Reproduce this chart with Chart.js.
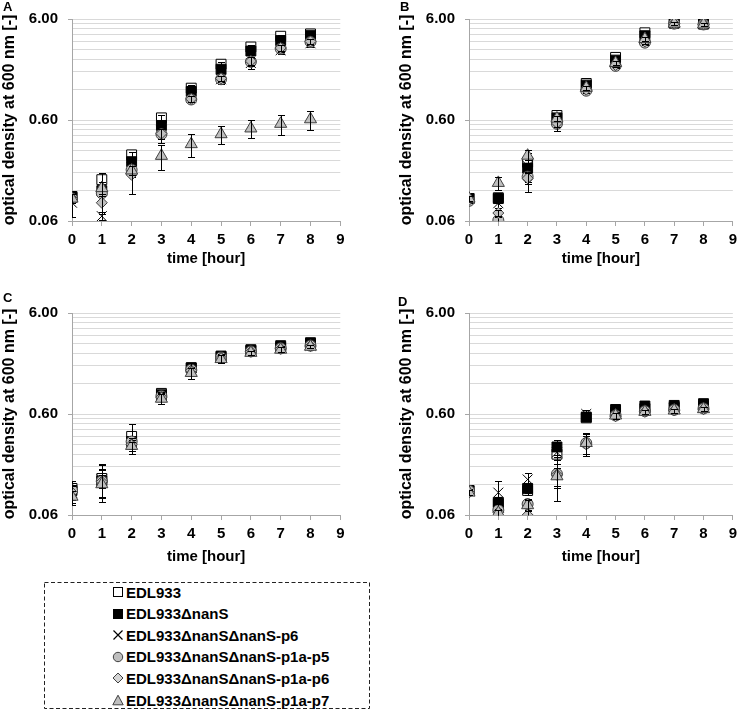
<!DOCTYPE html>
<html><head><meta charset="utf-8">
<script src="https://cdn.jsdelivr.net/npm/chart.js@4.4.1/dist/chart.umd.min.js"></script>
<style>
html,body{margin:0;padding:0;background:#fff;}
body{width:742px;height:711px;position:relative;overflow:hidden;font-family:"Liberation Sans",Arial,Helvetica,sans-serif;color:#000;}
.cv{position:absolute;}
.letter{position:absolute;font-weight:bold;font-size:13px;line-height:13px;}
#legend{position:absolute;left:44px;top:582px;width:326px;height:127px;}
#legend svg.box{position:absolute;left:0;top:0;}
.row{position:absolute;left:68px;height:22px;display:flex;align-items:center;font-weight:bold;font-size:15px;white-space:nowrap;}
.row svg{margin-right:2px;}
</style>
</head><body>
<canvas id="cA" class="cv" width="370" height="270" style="left:0;top:0"></canvas>
<canvas id="cB" class="cv" width="345" height="270" style="left:397px;top:0"></canvas>
<canvas id="cC" class="cv" width="370" height="275" style="left:0;top:294px"></canvas>
<canvas id="cD" class="cv" width="345" height="275" style="left:397px;top:294px"></canvas>
<div class="letter" style="left:3px;top:0px">A</div>
<div class="letter" style="left:400px;top:0px">B</div>
<div class="letter" style="left:3px;top:291px">C</div>
<div class="letter" style="left:398px;top:295px">D</div>
<div id="legend">
<svg class="box" width="326" height="127"><rect x="0.5" y="0.5" width="325" height="126" fill="none" stroke="#222" stroke-width="1" stroke-dasharray="4,2.5"/></svg>
</div>
<script>
// ---------- data ----------
const hours = [0, 1, 2, 3, 4, 5, 6, 7, 8];
const seriesNames = ['EDL933', 'EDL933ΔnanS', 'EDL933ΔnanSΔnanS-p6', 'EDL933ΔnanSΔnanS-p1a-p5', 'EDL933ΔnanSΔnanS-p1a-p6', 'EDL933ΔnanSΔnanS-p1a-p7'];
const xTickValues = [0, 1, 2, 3, 4, 5, 6, 7, 8, 9];
const xTickLabels = ['0', '1', '2', '3', '4', '5', '6', '7', '8', '9'];
const yMajorValues = [0.06, 0.6, 6];
const yTickLabels = ['0.06', '0.60', '6.00'];
const yGridValues = [0.06, 0.12, 0.18, 0.24, 0.30, 0.36, 0.42, 0.48, 0.54, 0.6, 1.2, 1.8, 2.4, 3.0, 3.6, 4.2, 4.8, 5.4, 6];
const xTitle = 'time [hour]';
const yTitle = 'optical density at 600 nm [-]';

// Panel A
const A_wt    = [0.105, 0.154, 0.271, 0.63, 1.24, 2.14, 3.17, 4.05, 4.27];
const A_del   = [0.103, 0.120, 0.232, 0.53, 1.15, 1.91, 2.89, 3.67, 4.11];
const A_p6    = [0.091, 0.067, 0.205, 0.47, 1.00, 1.52, 2.20, 2.95, 3.45];
const A_p5    = [0.100, 0.113, 0.193, 0.434, 0.958, 1.52, 2.26, 3.05, 3.56];
const A_p1a6  = [0.100, 0.091, 0.172, 0.44, 0.97, 1.55, 2.30, 3.10, 3.60];
const A_p7    = [0.100, 0.127, 0.190, 0.265, 0.346, 0.434, 0.495, 0.55, 0.61];
const A_wt_e   = [0.010, 0.024, 0.020, 0.05, 0.08, 0.10, 0.15, 0.15, 0.15];
const A_del_e  = [0.010, 0.010, 0.020, 0.04, 0.06, 0.10, 0.15, 0.15, 0.15];
const A_p6_e   = [0.025, 0.006, 0.020, 0.05, 0.08, 0.15, 0.30, 0.25, 0.30];
const A_p5_e   = [0.010, 0.020, 0.030, 0.08, 0.06, 0.10, 0.20, 0.20, 0.25];
const A_p1a6_e = [0.010, 0.020, 0.060, 0.05, 0.06, 0.10, 0.20, 0.20, 0.20];
const A_p7_e   = [0.010, 0.020, 0.020, 0.075, 0.09, 0.09, 0.10, 0.12, 0.13];

// Panel B
const B_wt    = [0.100, 0.102, 0.229, 0.665, 1.38, 2.50, 4.38, 5.47, 5.36];
const B_del   = [0.100, 0.100, 0.200, 0.63, 1.33, 2.35, 4.10, 5.47, 5.36];
const B_p6    = [0.100, 0.090, 0.210, 0.62, 1.30, 2.30, 4.00, 5.47, 5.36];
const B_p5    = [0.095, 0.061, 0.165, 0.55, 1.17, 2.06, 3.50, 5.40, 5.30];
const B_p1a6  = [0.097, 0.072, 0.159, 0.56, 1.20, 2.10, 3.60, 5.40, 5.30];
const B_p7    = [0.100, 0.143, 0.266, 0.62, 1.25, 2.20, 3.80, 5.40, 5.30];
const B_wt_e   = [0.005, 0.012, 0.040, 0.03, 0.05, 0.10, 0.20, 0.20, 0.20];
const B_del_e  = [0.005, 0.010, 0.085, 0.03, 0.05, 0.10, 0.20, 0.20, 0.20];
const B_p6_e   = [0.005, 0.010, 0.030, 0.03, 0.05, 0.10, 0.20, 0.20, 0.20];
const B_p5_e   = [0.005, 0.005, 0.020, 0.08, 0.05, 0.10, 0.20, 0.20, 0.20];
const B_p1a6_e = [0.005, 0.005, 0.020, 0.05, 0.05, 0.10, 0.20, 0.20, 0.20];
const B_p7_e   = [0.005, 0.020, 0.040, 0.03, 0.05, 0.10, 0.20, 0.20, 0.20];

// Panel C
const C_wt    = [0.110, 0.138, 0.36, 0.96, 1.72, 2.22, 2.55, 2.75, 2.95];
const C_del   = [0.105, 0.130, 0.32, 0.93, 1.72, 2.25, 2.60, 2.85, 3.05];
const C_p6    = [0.100, 0.135, 0.31, 0.90, 1.65, 2.20, 2.50, 2.70, 2.85];
const C_p5    = [0.105, 0.130, 0.32, 0.90, 1.65, 2.18, 2.50, 2.68, 2.85];
const C_p1a6  = [0.100, 0.128, 0.30, 0.88, 1.62, 2.15, 2.48, 2.65, 2.82];
const C_p7    = [0.091, 0.121, 0.29, 0.85, 1.53, 2.10, 2.42, 2.60, 2.78];
const C_wt_e   = [0.020, 0.050, 0.12, 0.05, 0.10, 0.10, 0.10, 0.15, 0.15];
const C_del_e  = [0.010, 0.020, 0.02, 0.05, 0.10, 0.10, 0.10, 0.15, 0.15];
const C_p6_e   = [0.025, 0.055, 0.03, 0.10, 0.15, 0.15, 0.10, 0.15, 0.15];
const C_p5_e   = [0.015, 0.040, 0.03, 0.08, 0.10, 0.20, 0.10, 0.15, 0.10];
const C_p1a6_e = [0.015, 0.040, 0.03, 0.08, 0.30, 0.20, 0.10, 0.15, 0.10];
const C_p7_e   = [0.012, 0.030, 0.03, 0.10, 0.20, 0.20, 0.10, 0.15, 0.10];

// Panel D
const D_wt    = [0.105, 0.080, 0.105, 0.240, 0.55, 0.62, 0.68, 0.70, 0.72];
const D_del   = [0.105, 0.078, 0.110, 0.283, 0.56, 0.665, 0.72, 0.73, 0.76];
const D_p6    = [0.103, 0.100, 0.135, 0.250, 0.60, 0.62, 0.66, 0.68, 0.70];
const D_p5    = [0.104, 0.067, 0.077, 0.153, 0.309, 0.58, 0.64, 0.66, 0.68];
const D_p1a6  = [0.100, 0.064, 0.060, 0.150, 0.300, 0.57, 0.63, 0.65, 0.67];
const D_p7    = [0.100, 0.063, 0.075, 0.145, 0.310, 0.58, 0.63, 0.65, 0.67];
const D_wt_e   = [0.005, 0.010, 0.010, 0.03, 0.03, 0.03, 0.03, 0.03, 0.03];
const D_del_e  = [0.005, 0.010, 0.010, 0.05, 0.03, 0.03, 0.03, 0.03, 0.03];
const D_p6_e   = [0.005, 0.030, 0.020, 0.04, 0.06, 0.03, 0.03, 0.03, 0.03];
const D_p5_e   = [0.005, 0.010, 0.010, 0.07, 0.08, 0.05, 0.03, 0.03, 0.03];
const D_p1a6_e = [0.005, 0.005, 0.005, 0.04, 0.06, 0.04, 0.03, 0.03, 0.03];
const D_p7_e   = [0.005, 0.005, 0.010, 0.03, 0.07, 0.04, 0.03, 0.03, 0.03];

// ---------- styles ----------
const GRAY = '#bfbfbf', DARK = '#404040';
const styles = [
  {pointStyle: 'rect', pointRadius: 7, backgroundColor: '#ffffff', borderColor: '#000'},
  {pointStyle: 'rect', pointRadius: 7, backgroundColor: '#000000', borderColor: '#000'},
  {pointStyle: 'crossRot', pointRadius: 7, backgroundColor: '#000000', borderColor: '#000'},
  {pointStyle: 'circle', pointRadius: 5.5, backgroundColor: GRAY, borderColor: DARK},
  {pointStyle: 'rectRot', pointRadius: 5.5, backgroundColor: GRAY, borderColor: DARK},
  {pointStyle: 'triangle', pointRadius: 7, backgroundColor: GRAY, borderColor: DARK}
];

const errorBars = {
  id: 'errorBars',
  afterDatasetDraw(chart, args) {
    const ds = chart.data.datasets[args.index];
    if (!ds.errors) return;
    const xs = chart.scales.x, ys = chart.scales.y, ctx = chart.ctx, a = chart.chartArea;
    ctx.save();
    ctx.beginPath(); ctx.rect(a.left, a.top - 1, a.right - a.left, a.bottom - a.top + 2); ctx.clip();
    ctx.strokeStyle = '#000'; ctx.lineWidth = 1;
    ds.data.forEach((p, i) => {
      const e = ds.errors[i]; if (!e) return;
      const x = Math.round(xs.getPixelForValue(p.x)) + 0.5;
      const top = Math.round(ys.getPixelForValue(p.y + e)) + 0.5;
      const lo = p.y - e > ys.min ? p.y - e : ys.min;
      const bot = Math.round(ys.getPixelForValue(lo)) + 0.5;
      const c = 3.5;
      ctx.beginPath();
      ctx.moveTo(x, top); ctx.lineTo(x, bot);
      ctx.moveTo(x - c, top); ctx.lineTo(x + c, top);
      if (p.y - e > ys.min) { ctx.moveTo(x - c, bot); ctx.lineTo(x + c, bot); }
      ctx.stroke();
    });
    ctx.restore();
  }
};

const FONT = '"Liberation Sans", Arial, Helvetica, sans-serif';

function makeChart(id, values, errors, rightPad, titleBottomPad) {
  const canvas = document.getElementById(id);
  const H = canvas.height;
  const datasets = values.map((vals, s) => Object.assign({
    label: seriesNames[s],
    data: vals.map((v, i) => ({x: hours[i], y: v})),
    errors: errors[s],
    borderWidth: 1,
    showLine: false,
    order: values.length - s
  }, styles[s]));
  return new Chart(canvas, {
    type: 'scatter',
    data: {datasets},
    plugins: [errorBars],
    options: {
      responsive: false, animation: false, devicePixelRatio: 1,
      layout: {padding: {left: 0, right: rightPad, top: 17, bottom: 0}},
      plugins: {legend: {display: false}, tooltip: {enabled: false}},
      scales: {
        x: {
          type: 'linear', min: 0, max: 9,
          afterBuildTicks: s => { s.ticks = xTickValues.map(v => ({value: v})); },
          afterFit: s => { s.height = H - 17 - 204; },
          ticks: {autoSkip: false, maxRotation: 0, padding: 5, color: '#000',
            font: {family: FONT, size: 15, weight: 'bold'},
            callback: v => { const i = xTickValues.indexOf(v); return i >= 0 ? xTickLabels[i] : ''; }},
          grid: {drawOnChartArea: false, drawTicks: true, tickLength: 5, color: '#a6a6a6'},
          border: {color: '#a6a6a6'},
          title: {display: true, text: xTitle, color: '#000', font: {family: FONT, size: 15, weight: 'bold'}, padding: {top: 0, bottom: titleBottomPad}}
        },
        y: {
          type: 'logarithmic', min: 0.06, max: 6,
          afterBuildTicks: s => { s.ticks = yGridValues.map(v => ({value: v, major: yMajorValues.indexOf(v) >= 0})); },
          afterFit: s => { s.width = 72; },
          ticks: {autoSkip: false, padding: 10, color: '#000',
            font: {family: FONT, size: 15, weight: 'bold'},
            callback: v => { const i = yMajorValues.indexOf(v); return i >= 0 ? yTickLabels[i] : ''; }},
          grid: {color: '#d9d9d9', lineWidth: 1, tickLength: 4,
            tickColor: c => (c.tick && yMajorValues.indexOf(c.tick.value) >= 0) ? '#a6a6a6' : 'rgba(0,0,0,0)'},
          border: {color: '#a6a6a6'},
          title: {display: true, text: yTitle, color: '#000', font: {family: FONT, size: 16, weight: 'bold'}, padding: 0}
        }
      }
    }
  });
}

makeChart('cA', [A_wt, A_del, A_p6, A_p5, A_p1a6, A_p7], [A_wt_e, A_del_e, A_p6_e, A_p5_e, A_p1a6_e, A_p7_e], 29.7, 2);
makeChart('cB', [B_wt, B_del, B_p6, B_p5, B_p1a6, B_p7], [B_wt_e, B_del_e, B_p6_e, B_p5_e, B_p1a6_e, B_p7_e], 4.7, 2);
makeChart('cC', [C_wt, C_del, C_p6, C_p5, C_p1a6, C_p7], [C_wt_e, C_del_e, C_p6_e, C_p5_e, C_p1a6_e, C_p7_e], 29.7, 3);
makeChart('cD', [D_wt, D_del, D_p6, D_p5, D_p1a6, D_p7], [D_wt_e, D_del_e, D_p6_e, D_p5_e, D_p1a6_e, D_p7_e], 4.7, 3);

// ---------- legend ----------
const legendSymbols = [
  '<rect x="1.5" y="1.5" width="9" height="9" fill="#fff" stroke="#000"/>',
  '<rect x="1.5" y="1.5" width="9" height="9" fill="#000" stroke="#000"/>',
  '<path d="M1.5 1.5L10.5 10.5M10.5 1.5L1.5 10.5" stroke="#000" stroke-width="1.2"/>',
  '<circle cx="6" cy="6" r="4.7" fill="#bfbfbf" stroke="#404040"/>',
  '<polygon points="6,1 11,6 6,11 1,6" fill="#d4d4d4" stroke="#404040"/>',
  '<polygon points="6,1.2 11.2,10.8 0.8,10.8" fill="#bfbfbf" stroke="#404040"/>'
];
const legend = document.getElementById('legend');
seriesNames.forEach((name, i) => {
  const row = document.createElement('div');
  row.className = 'row';
  row.style.top = (-1 + i * 21.6) + 'px';
  row.innerHTML = '<svg width="12" height="12">' + legendSymbols[i] + '</svg><span>' + name + '</span>';
  legend.appendChild(row);
});
</script>
</body></html>
